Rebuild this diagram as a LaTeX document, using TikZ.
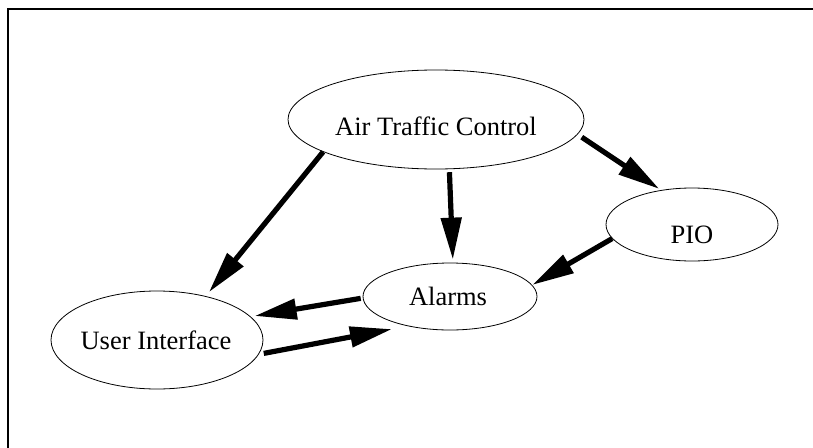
\documentclass[tikz,border=0pt]{standalone}
\usepackage{fontspec}
\setmainfont{Liberation Serif}
\usetikzlibrary{shapes.geometric,arrows.meta}
\begin{document}
\begin{tikzpicture}[x=1pt,y=-1pt,
  state/.style={ellipse,draw,line width=0.8pt,inner sep=0pt},
  lab/.style={font=\fontsize{26.5}{30}\selectfont,inner sep=0pt},
  flow/.style={line width=5.2pt,-{Triangle[length=42pt,width=20pt]}}]
\useasboundingbox (0,0) rectangle (813,447);
\clip (0,0) rectangle (813,447);
\draw[line width=2.2pt] (830,9) -- (8,9) -- (8,460);
\node[state,minimum width=296pt,minimum height=99pt,
  label={[lab,yshift=-7pt]center:Air Traffic Control}] (atc) at (436,119.5) {};
\node[state,minimum width=172pt,minimum height=73pt,
  label={[lab,yshift=-10pt]center:PIO}] (pio) at (692,224.5) {};
\node[state,minimum width=174pt,minimum height=67pt,
  label={[lab,xshift=-2pt]center:Alarms}] (al) at (450,296.5) {};
\node[state,minimum width=212pt,minimum height=98pt,
  label={[lab,xshift=-1pt]center:User Interface}] (ui) at (157,340) {};
\draw[flow,shorten >=5pt] (atc.196) -- (ui.42);
\draw[flow,shorten <=3pt,shorten >=3pt] (atc.285) -- (al.85);
\draw[flow,shorten <=5pt,shorten >=2pt] (atc.-6) -- (pio.132);
\draw[flow] (pio.190) -- (al.8);
\draw[flow,shorten <=2pt,shorten >=4pt] (al.181) -- (ui.14);
\draw[flow,shorten <=5pt,shorten >=16pt] (ui.-8) -- (al.215);
\end{tikzpicture}
\end{document}
